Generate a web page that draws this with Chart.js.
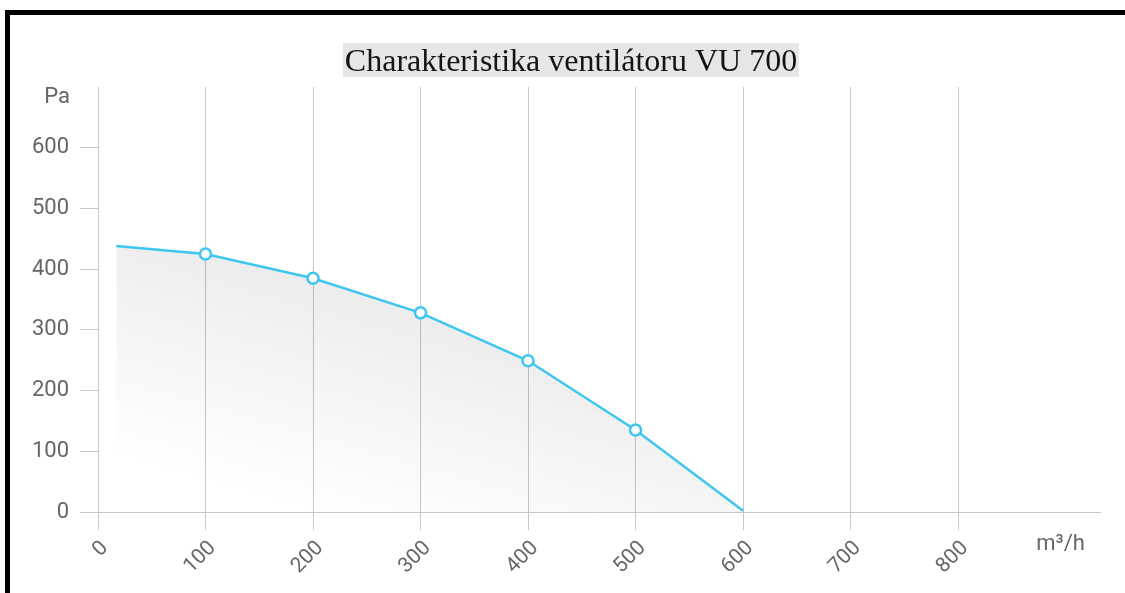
<!DOCTYPE html>
<html>
<head>
<meta charset="utf-8">
<script src="https://cdn.jsdelivr.net/npm/chart.js@4/dist/chart.umd.min.js"></script>
<style>
  html, body { margin: 0; padding: 0; background: #fff; overflow: hidden; }
  #wrap { position: absolute; left: 0; top: 0; width: 1125px; height: 593px; }
  #frame { position: absolute; left: 5px; top: 10px; width: 2000px; height: 2000px; border: 5px solid #000; pointer-events: none; box-sizing: border-box; }
  canvas { position: absolute; left: 0; top: 0; }
</style>
</head>
<body>
<div id="wrap">
  <div id="frame"></div>
  <canvas id="c" width="1125" height="593"></canvas>
</div>
<script>
const titleText = "Charakteristika ventilátoru VU 700";
const flowValues = [17, 100, 200, 300, 400, 500, 600];      // m³/h
const pressureValues = [438, 425, 385, 328, 249, 135, 2];     // Pa
const markerShown = [false, true, true, true, true, true, false];
const yUnitLabel = "Pa";
const xUnitLabel = "m³/h";
const xTickMax = 900;
const yTickMax = 700;

const points = flowValues.map((x, i) => ({ x: x, y: pressureValues[i] }));

const decorPlugin = {
  id: 'decor',
  beforeDraw(chart) {
    const ctx = chart.ctx;
    ctx.save();
    ctx.font = '32px "Liberation Serif"';
    const w = ctx.measureText(titleText).width;
    const cx = 571;
    ctx.fillStyle = '#e6e6e6';
    ctx.fillRect(cx - w / 2 - 2, 43, w + 4, 34);
    ctx.fillStyle = '#141414';
    ctx.textAlign = 'center';
    ctx.textBaseline = 'alphabetic';
    ctx.fillText(titleText, cx, 71);
    ctx.restore();
  },
  afterDraw(chart) {
    const ctx = chart.ctx;
    const xs = chart.scales.x, ys = chart.scales.y;
    ctx.save();
    ctx.font = '22px Roboto';
    ctx.fillStyle = '#666';
    ctx.textBaseline = 'middle';
    ctx.textAlign = 'right';
    ctx.fillText(yUnitLabel, 70, ys.getPixelForValue(yTickMax) + 10);
    ctx.textAlign = 'center';
    ctx.fillText(xUnitLabel, xs.getPixelForValue(xTickMax) - 5, 544);
    ctx.restore();
  }
};

new Chart(document.getElementById('c'), {
  type: 'line',
  data: {
    datasets: [{
      data: points,
      borderColor: '#3ec6f0',
      borderWidth: 2.5,
      tension: 0,
      fill: 'origin',
      backgroundColor(ctx) {
        const a = ctx.chart.chartArea;
        if (!a) return 'rgba(0,0,0,0.05)';
        const g = ctx.chart.ctx.createLinearGradient(a.left, a.bottom - 60, a.left + 60, a.bottom - 270);
        g.addColorStop(0, 'rgba(0,0,0,0)');
        g.addColorStop(1, 'rgba(0,0,0,0.07)');
        return g;
      },
      pointRadius: markerShown.map(v => v ? 5.5 : 0),
      pointHoverRadius: markerShown.map(v => v ? 5.5 : 0),
      pointBackgroundColor: '#fff',
      pointBorderColor: '#3ec6f0',
      pointBorderWidth: 2.5
    }]
  },
  options: {
    responsive: false,
    animation: false,
    events: [],
    layout: { padding: { top: 87, right: 25, left: 0, bottom: 0 } },
    plugins: { legend: { display: false }, tooltip: { enabled: false }, title: { display: false } },
    scales: {
      x: {
        type: 'linear',
        min: 0,
        max: 932,
        afterFit(s) { s.height = 81; },
        afterBuildTicks(s) { s.ticks = s.ticks.filter(t => t.value % 100 === 0 && t.value <= xTickMax); },
        border: { display: true, color: '#c8c8c8', width: 1 },
        grid: { color: '#c8c8c8', tickLength: 18, drawOnChartArea: true },
        ticks: {
          stepSize: 100,
          autoSkip: false,
          minRotation: 45,
          maxRotation: 45,
          padding: 6,
          labelOffset: 7,
          color: '#666',
          font: { family: 'Roboto', size: 21 },
          callback(v) { return v >= xTickMax ? '' : String(v); }
        }
      },
      y: {
        min: 0,
        max: yTickMax,
        afterFit(s) { s.width = 98; },
        border: { display: false },
        grid: {
          drawOnChartArea: false,
          tickLength: 18,
          color(ctx) { return ctx.tick && ctx.tick.value >= yTickMax ? 'rgba(0,0,0,0)' : '#c8c8c8'; }
        },
        ticks: {
          stepSize: 100,
          padding: 11,
          color: '#666',
          font: { family: 'Roboto', size: 22 },
          callback(v) { return v >= yTickMax ? '' : String(v); }
        }
      }
    }
  },
  plugins: [decorPlugin]
});
</script>
</body>
</html>
